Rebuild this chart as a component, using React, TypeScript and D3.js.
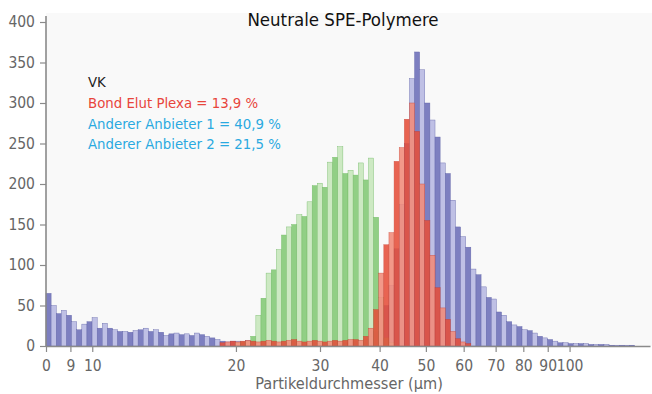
import { useRef, useEffect } from 'react';
import * as d3 from 'd3';

// histogram bins: geometric steps starting at 8 µm (axis shows it as "0")
const binFirst = 8;
const binRatio = 1.025;
const binCount = 118;

const xTickValues = [8, 9, 10, 20, 30, 40, 50, 60, 70, 80, 90, 100];
const xTickLabels = ['0', '9', '10', '20', '30', '40', '50', '60', '70', '80', '90', '100'];
const yTickValues = [0, 50, 100, 150, 200, 250, 300, 350, 400];

// counts per bin, each series starts at its own bin index
const vkStart = 0;
const vkCounts = [
  65, 50, 40, 44, 38, 30, 20, 27, 30, 35, 22, 28, 22, 20, 18, 18, 17, 19, 20, 22,
  18, 20, 17, 13, 15, 16, 14, 15, 13, 16, 14, 12, 10, 8, 6, 5, 6,
  6, 5, 7, 5, 6, 5, 4, 6, 5, 5, 4, 6, 5, 4, 5, 6, 5, 4, 5, 6, 5, 4, 5, 6, 7,
  8, 12, 18, 30, 50, 75, 120, 175, 250, 330, 363, 341, 300, 279, 258, 226, 213, 180, 147, 135,
  122, 95, 88, 73, 60, 58, 42, 38, 30, 26, 24, 20, 19, 16, 12, 10, 8, 6, 4, 4,
  3, 3, 3, 3, 2, 2, 2, 2, 1, 1, 1, 1, 1, 0, 0, 0
];

const anb2Start = 37;
const anb2Counts = [
  4, 5, 6, 12, 38, 59, 90, 94, 119, 137, 147, 150, 162, 160, 178, 198, 201, 196, 227, 233,
  246, 213, 217, 211, 226, 205, 232, 159, 60, 10, 4
];

const plexaStart = 34;
const plexaCounts = [
  4, 5, 6, 5, 6, 7, 6, 5, 6, 7, 6, 5, 6, 7, 8, 6, 5, 6, 7, 6, 5, 6, 7, 6, 7, 8, 8, 7,
  12, 22, 45, 90, 125, 140, 228, 245, 280, 300, 265, 200, 155, 112, 72, 47, 33, 18, 9, 5, 3
];

const legendLines = [
  { text: 'VK', color: '#222' },
  { text: 'Bond Elut Plexa = 13,9 %', color: '#e8453c' },
  { text: 'Anderer Anbieter 1 = 40,9 %', color: '#2aa9e0' },
  { text: 'Anderer Anbieter 2 = 21,5 %', color: '#2aa9e0' }
];

const font = "'Liberation Sans Narrow', 'DejaVu Sans Condensed', 'Roboto', sans-serif";

const width = 652;
const height = 394;
const marginLeft = 46;
const marginRight = 2;
const marginTop = 22;
const marginBottom = 48;

type Series = {
  start: number;
  counts: number[];
  dark: string;
  light: string;
  edge: string;
  opacity: number;
}

const series: Series[] = [
  { start: vkStart, counts: vkCounts, dark: '#7779bd', light: '#bcbde4', edge: '#5b5ea6', opacity: 0.95 },
  { start: anb2Start, counts: anb2Counts, dark: '#8ccd7f', light: '#cbe9c1', edge: '#6db75f', opacity: 0.95 },
  { start: plexaStart, counts: plexaCounts, dark: '#e6503c', light: '#f28b7a', edge: '#c9392a', opacity: 0.88 }
];

export default function App() {
  const gx = useRef<SVGGElement>(null);
  const gy = useRef<SVGGElement>(null);

  const edges = d3.range(binCount + 1).map((i) => binFirst * Math.pow(binRatio, i));
  const x = d3.scaleLog([binFirst, edges[binCount]], [marginLeft, width - marginRight]);
  const y = d3.scaleLinear([0, 400], [height - marginBottom, marginTop]);

  useEffect(() => {
    const g = d3.select(gx.current!);
    g.call(
      d3.axisBottom(x)
        .tickValues(xTickValues)
        .tickFormat((d, i) => xTickLabels[i])
        .tickSize(6)
        .tickSizeOuter(0)
    );
    g.select('.domain').attr('stroke', '#8a8a8a').attr('stroke-width', 1.6);
    g.selectAll('.tick line').attr('stroke', '#8a8a8a').attr('stroke-width', 1.2);
    g.selectAll('.tick text')
      .attr('fill', '#666')
      .attr('font-size', 15.5)
      .attr('font-family', font)
      .attr('dy', '1.05em');
  }, [x]);

  useEffect(() => {
    const g = d3.select(gy.current!);
    g.call(d3.axisLeft(y).tickValues(yTickValues).tickSize(6).tickSizeOuter(0));
    g.select('.domain').remove();
    g.selectAll('.tick line').attr('stroke', '#8a8a8a').attr('stroke-width', 1.2);
    g.selectAll('.tick text')
      .attr('fill', '#666')
      .attr('font-size', 15.5)
      .attr('font-family', font)
      .attr('x', -11);
  }, [y]);

  return (
    <svg width={width} height={height} style={{ position: 'absolute', left: 0, top: 0, background: '#fff' }}>
      <rect x={marginLeft} y={13} width={width - marginLeft} height={height - marginBottom - 13} fill="#f9f9f9" />
      {series.map((s, si) => (
        <g key={si} opacity={s.opacity}>
          {s.counts.map((c, i) => {
            const b = s.start + i;
            if (c <= 0) return null;
            const x0 = x(edges[b]);
            const x1 = x(edges[b + 1]);
            return (
              <rect
                key={i}
                x={x0}
                y={y(c)}
                width={x1 - x0}
                height={y(0) - y(c)}
                fill={b % 2 === 0 ? s.dark : s.light}
                stroke={s.edge}
                strokeWidth={0.4}
              />
            );
          })}
        </g>
      ))}
      <line x1={marginLeft} x2={marginLeft} y1={16} y2={height - marginBottom} stroke="#8a8a8a" strokeWidth={1.6} />
      <g ref={gx} transform={`translate(0,${height - marginBottom})`} />
      <g ref={gy} transform={`translate(${marginLeft},0)`} />
      <text x={343} y={26} textAnchor="middle" fontFamily={font} fontSize={18.5} fill="#111">
        Neutrale SPE-Polymere
      </text>
      {legendLines.map((l, i) => (
        <text key={i} x={88} y={87 + i * 20.8} fontFamily={font} fontSize={14.8} fill={l.color}>
          {l.text}
        </text>
      ))}
      <text x={349} y={389} textAnchor="middle" fontFamily={font} fontSize={16.2} fill="#666">
        Partikeldurchmesser (µm)
      </text>
    </svg>
  );
}
